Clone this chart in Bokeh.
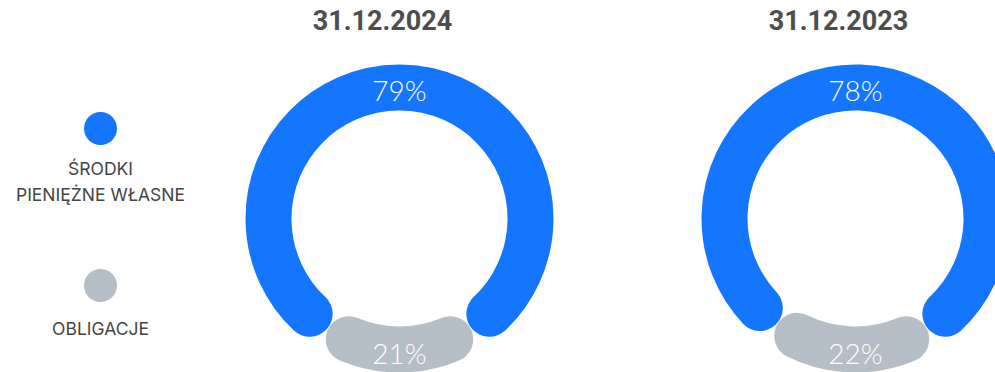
import math
from bokeh.plotting import figure
from bokeh.models import Range1d
from bokeh.core.properties import value
from bokeh.embed import file_html
from bokeh.resources import INLINE

# ---- data ----
dates = ["31.12.2024", "31.12.2023"]
srodki = [79, 78]          # ŚRODKI PIENIĘŻNE WŁASNE (%)
obligacje = [21, 22]       # OBLIGACJE (%)
legend_labels = ["ŚRODKI\nPIENIĘŻNE WŁASNE", "OBLIGACJE"]

# ---- style ----
BLUE = "#1475FE"
GREY = "#B5BEC6"
TEXT = "#4D4D4D"
W, H = 995, 372
centers_x = [399, 855]
center_y = 154
R = 131          # ring centre-line radius (data units == px)
RING_W = 46      # ring thickness in px
GREY_START = math.radians(37.8)   # fixed angle (from bottom, right side) where the grey share begins

p = figure(width=W, height=H, output_backend="svg", toolbar_location=None,
           x_range=Range1d(0, W), y_range=Range1d(0, H), min_border=0,
           background_fill_color="white", border_fill_color="white")
p.axis.visible = False
p.grid.visible = False
p.outline_line_color = None

bottom = -math.pi / 2
for i, cx in enumerate(centers_x):
    g = obligacje[i]
    b = srodki[i]
    # share boundaries (math angles, anticlockwise)
    right_edge = bottom + GREY_START
    left_edge = right_edge - 2 * math.pi * g / 100
    # grey segment (behind), centre-line shortened for its round caps
    p.arc(x=[cx], y=[center_y], radius=R,
          start_angle=left_edge + math.radians(15), end_angle=right_edge - math.radians(15),
          direction="anticlock", line_color=GREY, line_width=RING_W, line_cap="round")
    # blue segment
    p.arc(x=[cx], y=[center_y], radius=R,
          start_angle=right_edge + math.radians(5.5),
          end_angle=left_edge - math.radians(5.5) + 2 * math.pi,
          direction="anticlock", line_color=BLUE, line_width=RING_W, line_cap="round")
    # percent labels
    p.text(x=[cx], y=[center_y + R - 2], text=[f"{b}%"], text_align="center",
           text_baseline="middle", text_color="white",
           text_font=value("'Lato Light', Lato"), text_font_size=value("28px"))
    p.text(x=[cx], y=[center_y - R - 3], text=[f"{g}%"], text_align="center",
           text_baseline="middle", text_color="white",
           text_font=value("'Lato Light', Lato"), text_font_size=value("28px"))
    # title
    p.text(x=[cx - 17], y=[H - 19], text=[dates[i]], text_align="center",
           text_baseline="middle", text_color=TEXT, text_font=value("Roboto"),
           text_font_style="bold", text_font_size=value("27px"))

# legend
leg_x = 100
p.scatter(x=[leg_x], y=[H - 128], size=33, marker="circle", fill_color=BLUE, line_color=None)
p.scatter(x=[leg_x], y=[H - 285], size=33, marker="circle", fill_color=GREY, line_color=None)
p.text(x=[leg_x], y=[H - 181], text=[legend_labels[0]], text_align="center",
       text_baseline="middle", text_color="#444444", text_font=value("Inter"),
       text_font_size=value("17.5px"), text_line_height=1.27)
p.text(x=[leg_x], y=[H - 328], text=[legend_labels[1]], text_align="center",
       text_baseline="middle", text_color="#444444", text_font=value("Inter"),
       text_font_size=value("17.5px"))

open("out.html", "w").write(file_html(p, INLINE))
